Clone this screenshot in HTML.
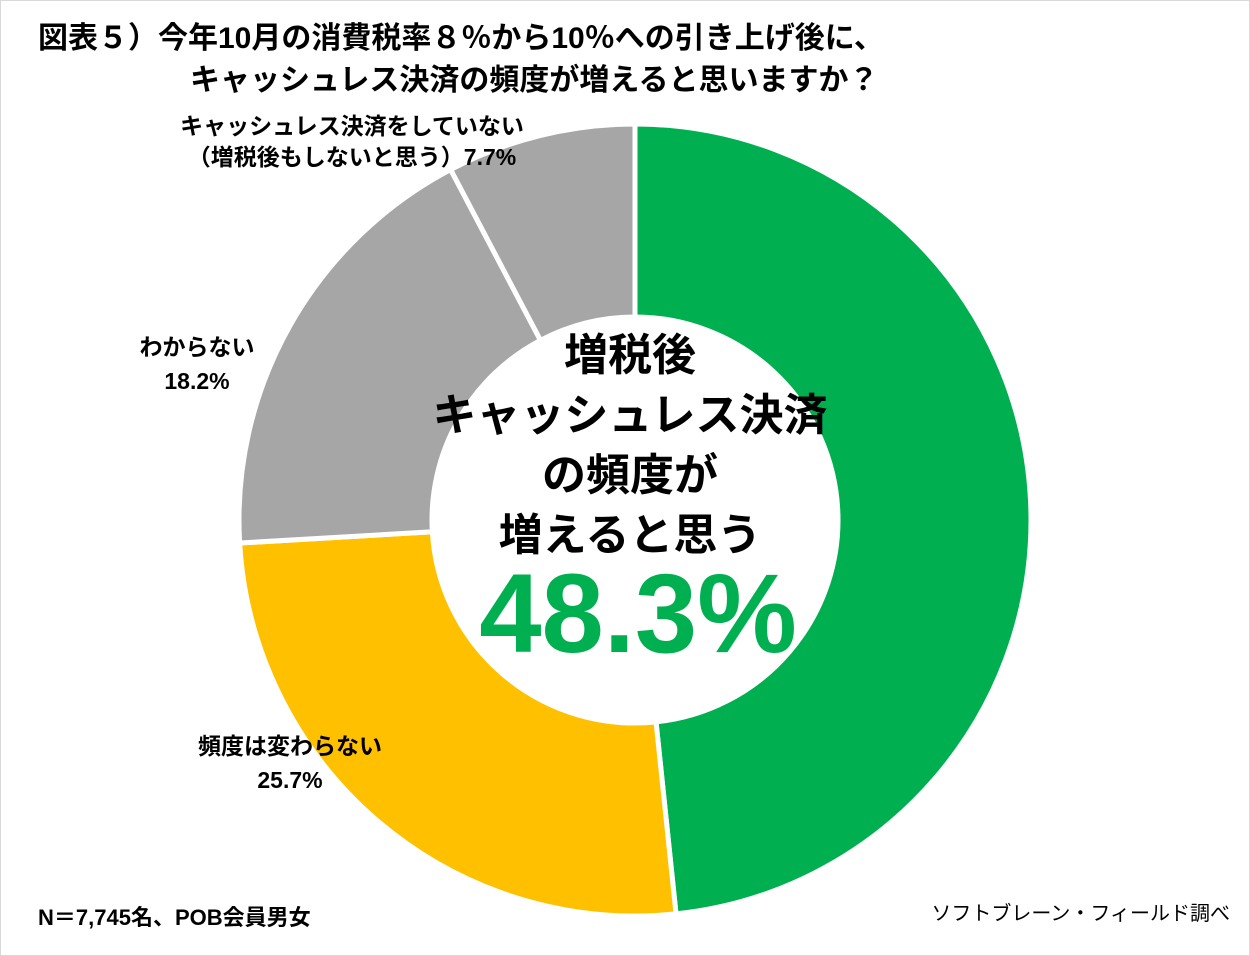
<!DOCTYPE html>
<html><head><meta charset="utf-8">
<style>
body{margin:0;background:#fff;}
svg{display:block;font-family:"Liberation Sans","Noto Sans CJK JP",sans-serif;}
</style></head>
<body>
<svg id="chart" width="1250" height="956" viewBox="0 0 1250 956">
<rect x="0.5" y="0.5" width="1249" height="955" fill="#fff" stroke="#d9d9d9"/>
<text x="38" y="48" font-size="30" font-weight="bold" fill="#000">図表５）今年10月の消費税率８％から10％への引き上げ後に、</text>
<text x="190" y="90" font-size="30" font-weight="bold" fill="#000">キャッシュレス決済の頻度が増えると思いますか？</text>
<g id="slices"></g>
<g font-weight="bold" text-anchor="middle">
<text x="630" y="370" font-size="44" fill="#000">増税後</text>
<text x="630" y="430" font-size="44" fill="#000">キャッシュレス決済</text>
<text x="630" y="490" font-size="44" fill="#000">の頻度が</text>
<text x="630" y="550" font-size="44" fill="#000">増えると思う</text>
<text x="638" y="652" font-size="112" fill="#00b050">48.3%</text>
</g>
<g font-size="23" font-weight="bold" fill="#000" text-anchor="middle">
<text x="352" y="134">キャッシュレス決済をしていない</text>
<text x="352" y="165">（増税後もしないと思う）7.7%</text>
<text x="197" y="355">わからない</text>
<text x="197" y="389">18.2%</text>
<text x="290" y="754">頻度は変わらない</text>
<text x="290" y="788">25.7%</text>
</g>
<text x="38" y="925" font-size="22" font-weight="bold" fill="#000">N＝7,745名、POB会員男女</text>
<text x="1230" y="920" font-size="20" fill="#000" text-anchor="end">ソフトブレーン・フィールド調べ</text>
</svg>
<script>
const categories=["増えると思う","頻度は変わらない","わからない","キャッシュレス決済をしていない"];
const values=[48.3,25.7,18.2,7.7];
const colors=["#00b050","#ffc000","#a6a6a6","#a6a6a6"];
const cx=635,cy=520,R=396,r=203;
const g=document.getElementById('slices');
const total=values.reduce((a,b)=>a+b,0);
function pt(rad,a){return [cx+rad*Math.sin(a),cy-rad*Math.cos(a)];}
let acc=0;
values.forEach((v,i)=>{
  const a0=acc/total*2*Math.PI;acc+=v;const a1=acc/total*2*Math.PI;
  const lg=(a1-a0)>Math.PI?1:0;
  const p0=pt(R,a0),p1=pt(R,a1),q1=pt(r,a1),q0=pt(r,a0);
  const p=document.createElementNS('http://www.w3.org/2000/svg','path');
  p.setAttribute('d',`M${p0[0]},${p0[1]}A${R},${R} 0 ${lg} 1 ${p1[0]},${p1[1]}L${q1[0]},${q1[1]}A${r},${r} 0 ${lg} 0 ${q0[0]},${q0[1]}Z`);
  p.setAttribute('fill',colors[i]);
  p.setAttribute('stroke','#fff');
  p.setAttribute('stroke-width','5');
  
  
  g.appendChild(p);
});
</script>
</body></html>
